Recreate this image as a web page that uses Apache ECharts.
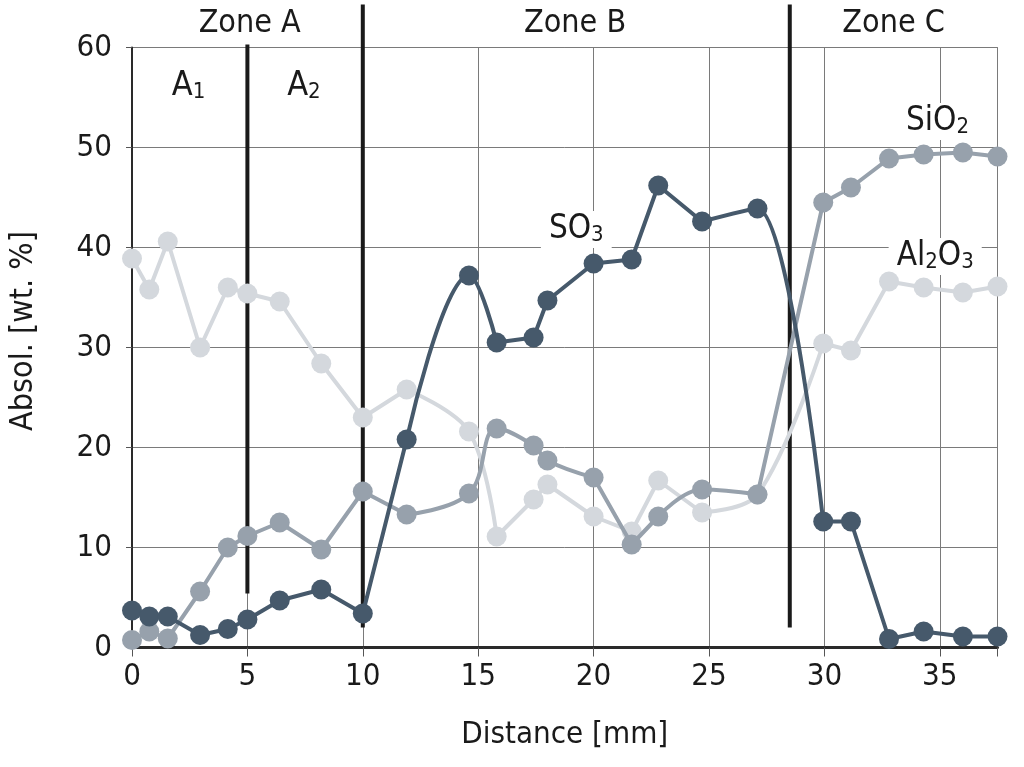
<!DOCTYPE html>
<html><head><meta charset="utf-8">
<script src="https://cdn.jsdelivr.net/npm/echarts@6/dist/echarts.min.js"></script>
<style>html,body{margin:0;padding:0;background:#fff}#c{width:1024px;height:767px}</style>
</head><body><div id="c"></div>
<script>
// ---- data ----
const distance = [0, 0.75, 1.55, 2.95, 4.15, 5.0, 6.4, 8.2, 10.0, 11.9, 14.6, 15.8, 17.4, 18.0, 20.0, 21.65, 22.8, 24.7, 27.1, 29.95, 31.15, 32.8, 34.3, 36.0, 37.5];
const so3   = [3.7, 3.1, 3.1, 1.25, 1.85, 2.8, 4.7, 5.8, 3.4, 20.8, 37.2, 30.5, 31.0, 34.7, 38.4, 38.8, 46.2, 42.6, 43.9, 12.6, 12.6, 0.85, 1.6, 1.1, 1.1];
const sio2  = [0.75, 1.6, 0.9, 5.6, 10.0, 11.15, 12.5, 9.8, 15.6, 13.3, 15.4, 21.9, 20.2, 18.7, 17.0, 10.3, 13.1, 15.8, 15.3, 44.5, 46.0, 48.9, 49.3, 49.5, 49.1];
const al2o3 = [38.9, 35.8, 40.6, 30.0, 36.0, 35.4, 34.6, 28.4, 23.0, 25.8, 21.6, 11.1, 14.8, 16.3, 13.1, 11.6, 16.7, 13.5, 15.3, 30.4, 29.7, 36.6, 36.0, 35.5, 36.1];
// index ranges drawn as smooth curves: [from, to, smoothness]
const so3Smooth   = [[9, 11, 0.4], [17, 19, 0.3]];
const sio2Smooth  = [[9, 14, 0.4], [16, 18, 0.4]];
const al2o3Smooth = [[9, 11, 0.35], [17, 19, 0.35]];

const xTicks = [0, 5, 10, 15, 20, 25, 30, 35, 37.5];
const xLabels = [0, 5, 10, 15, 20, 25, 30, 35];
const zoneBoundaryX = [5, 10, 28.5];
const zoneBoundaryTop = [60.3, 64.3, 64.3];
const zoneBoundaryBottom = [5.4, 2.0, 2.0];
const zoneNames = ['Zone A', 'Zone B', 'Zone C'];
const zoneNameX = [5.1, 19.2, 33.0];
const zoneNameY = [62.4, 62.4, 62.4];
const subZoneNames = ['A{s|1}', 'A{s|2}'];
const subZoneX = [2.45, 7.45];
const subZoneY = [56.1, 56.1];
const compoundNames = ['SO{s|3}', 'SiO{s|2}', 'Al{s|2}O{s|3}'];
const compoundX = [19.25, 34.9, 34.8];
const compoundY = [41.8, 52.6, 39.1];

// ---- styles ----
const FONT = '"Liberation Sans Narrow","DejaVu Sans Condensed","Liberation Sans",sans-serif';
const cDark = '#46596b', cMid = '#97a1ac', cLight = '#d4d8dd';

function buildSeries(name, values, runs, color, z) {
  const n = values.length;
  const smoothSeg = new Array(n - 1).fill(false);
  runs.forEach(([a, b]) => { for (let i = a; i < b; i++) smoothSeg[i] = true; });
  const out = [];
  const lineBase = (idx, smooth) => ({
    type: 'line', name, silent: true, z, smooth: smooth || false,
    showSymbol: false, animation: false,
    lineStyle: { color, width: 4 },
    data: idx.map(k => [distance[k], values[k]])
  });
  runs.forEach(([a, b, s]) => {
    const idx = []; for (let k = a; k <= b; k++) idx.push(k);
    out.push(lineBase(idx, s));
  });
  let i = 0;
  while (i < n - 1) {
    if (smoothSeg[i]) { i++; continue; }
    let j = i;
    while (j < n - 1 && !smoothSeg[j]) j++;
    const idx = []; for (let k = i; k <= j; k++) idx.push(k);
    out.push(lineBase(idx, false));
    i = j;
  }
  out.push({
    type: 'scatter', name, silent: true, z, animation: false,
    symbolSize: 20, itemStyle: { color, opacity: 1 },
    data: distance.map((x, k) => [x, values[k]])
  });
  return out;
}

function textSeries(texts, xs, ys, size, subSize, bg, z) {
  return {
    type: 'custom', silent: true, z, clip: false, animation: false,
    data: texts.map((t, i) => [xs[i], ys[i], i]),
    encode: { x: 0, y: 1 },
    renderItem(params, api) {
      const p = api.coord([api.value(0), api.value(1)]);
      const t = texts[api.value(2)];
      return {
        type: 'text', x: p[0], y: p[1],
        style: {
          text: t, fontFamily: FONT, fontSize: size, fill: '#1a1a1a',
          align: 'center', verticalAlign: 'middle', lineHeight: size,
          backgroundColor: bg ? '#ffffff' : null, padding: bg ? [2, 8, 2, 8] : 0,
          rich: { s: { fontFamily: FONT, fontSize: subSize, fill: '#1a1a1a', verticalAlign: 'bottom', lineHeight: 14 } }
        }
      };
    }
  };
}

const chart = echarts.init(document.getElementById('c'), null, { renderer: 'canvas' });
const option = {
  animation: false,
  backgroundColor: '#ffffff',
  grid: { left: 129.5, right: 26.5, top: 47.5, bottom: 119.5, show: true, borderColor: '#7a7a7a', borderWidth: 1 },
  xAxis: {
    type: 'value', min: 0, max: 37.5, interval: 5,
    name: 'Distance [mm]', nameLocation: 'middle', nameGap: 72,
    nameTextStyle: { fontFamily: FONT, fontSize: 31, color: '#1a1a1a' },
    axisLine: { show: true, lineStyle: { color: '#2a2a2a', width: 3 } },
    axisTick: { show: true, length: 9, lineStyle: { color: '#555', width: 1 }, customValues: xTicks },
    axisLabel: { fontFamily: FONT, fontSize: 31, color: '#1a1a1a', margin: 14, customValues: xLabels },
    splitLine: { show: true, lineStyle: { color: '#7a7a7a', width: 1 } }
  },
  yAxis: {
    type: 'value', min: 0, max: 60, interval: 10,
    name: 'Absol. [wt. %]', nameLocation: 'middle', nameGap: 92, nameRotate: 90,
    nameTextStyle: { fontFamily: FONT, fontSize: 32, color: '#1a1a1a', padding: [0, 0, 0, 33] },
    axisLine: { show: true, lineStyle: { color: '#2a2a2a', width: 2 } },
    axisTick: { show: true, length: 6, lineStyle: { color: '#555', width: 1 } },
    axisLabel: { fontFamily: FONT, fontSize: 31, color: '#1a1a1a', margin: 20 },
    splitLine: { show: true, lineStyle: { color: '#7a7a7a', width: 1 } }
  },
  series: [
    {
      type: 'custom', silent: true, z: 1, clip: false, animation: false,
      data: zoneBoundaryX.map((x, i) => [x, zoneBoundaryTop[i], zoneBoundaryBottom[i]]),
      encode: { x: 0, y: [1, 2] },
      renderItem(params, api) {
        const a = api.coord([api.value(0), api.value(1)]);
        const b = api.coord([api.value(0), api.value(2)]);
        return { type: 'line', shape: { x1: a[0], y1: a[1], x2: b[0], y2: b[1] }, style: { stroke: '#1a1a1a', lineWidth: 4 } };
      }
    },
    ...buildSeries('Al2O3', al2o3, al2o3Smooth, cLight, 2),
    ...buildSeries('SiO2', sio2, sio2Smooth, cMid, 3),
    ...buildSeries('SO3', so3, so3Smooth, cDark, 4),
    textSeries(zoneNames, zoneNameX, zoneNameY, 32, 20, false, 6),
    textSeries(subZoneNames, subZoneX, subZoneY, 34, 22, false, 6),
    textSeries(compoundNames, compoundX, compoundY, 33, 22, true, 1.5)
  ]
};
chart.setOption(option);
</script>
</body></html>
